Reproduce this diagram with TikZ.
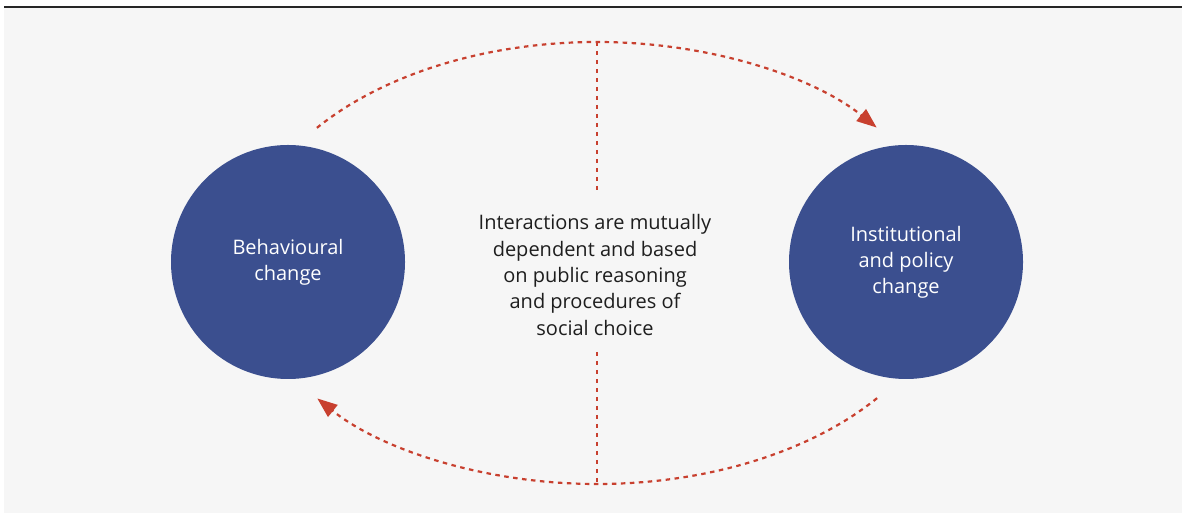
\documentclass[tikz,border=0pt]{standalone}
\usepackage{fontspec}
\setmainfont{Open Sans}
\usetikzlibrary{arrows.meta,calc}
\definecolor{bg}{RGB}{246,246,246}
\definecolor{circ}{RGB}{59,79,143}
\definecolor{dred}{RGB}{200,64,47}
\definecolor{txt}{RGB}{30,30,30}
\tikzset{
  bubble/.style={circle, fill=circ, minimum size=234pt, inner sep=0pt, text=white, align=center, font=\fontsize{20}{26}\selectfont},
  reddash/.style={draw=dred, line width=2.2pt, dash pattern=on 4.5pt off 4.5pt},
  arrowed/.style={-{Triangle[length=20pt,width=15pt]}},
  midtext/.style={align=center, text=txt, font=\fontsize{20}{26.3}\selectfont}
}
\begin{document}
\begin{tikzpicture}[x=1pt,y=1pt]
\useasboundingbox (0,0) rectangle (1182,513);
\fill[white] (0,0) rectangle (1182,513);
\fill[bg] (4,0) rectangle (1182,506);
\draw[line width=2.2pt, black!85] (4,506) -- (1182,506);
\node[bubble] (beh) at (288,251) {Behavioural\\change};
\node[bubble] (inst) at (906,251) {Institutional\\and policy\\change};
\node[midtext] (mid) at (595,238) {Interactions are mutually\\dependent and based\\on public reasoning\\and procedures of\\social choice};
\coordinate (ctr) at (597,250);
\coordinate (toppeak) at (597,471);
\coordinate (botpeak) at (597,29);
\coordinate (topend) at (597,321);
\coordinate (botend) at (597,161);
\draw[reddash, arrowed] (ctr) ++(142.3:354 and 221) arc[start angle=142.3, end angle=37.8, x radius=354, y radius=221];
\draw[reddash, arrowed] (ctr) ++(-37.7:354 and 221) arc[start angle=-37.7, end angle=-142.2, x radius=354, y radius=221];
\draw[reddash] (toppeak) -- (topend);
\draw[reddash] (botend) -- (botpeak);
\end{tikzpicture}
\end{document}
